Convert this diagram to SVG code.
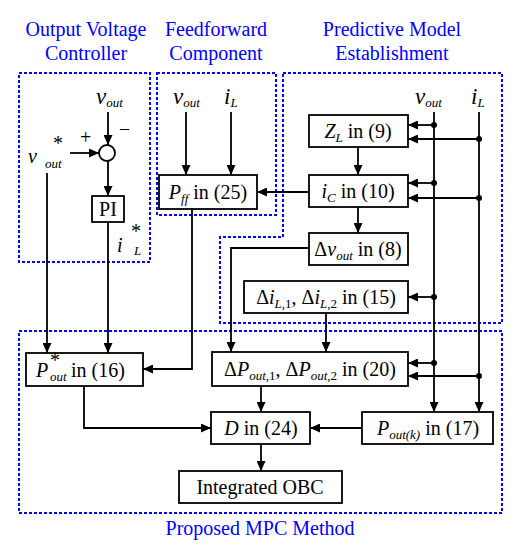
<svg xmlns="http://www.w3.org/2000/svg" width="516" height="550" viewBox="0 0 516 550">
<defs>
<style>
text{font-family:"Liberation Serif","DejaVu Serif",serif;}
.t{font-size:20px;fill:#000;}
.title{font-size:20px;fill:#0000ff;text-anchor:middle;}
.i{font-style:italic;}
.s{font-size:13px;font-style:italic;}
.box{fill:#fff;stroke:#000;stroke-width:1.8;}
.dash{fill:none;stroke:#0000ff;stroke-width:2;stroke-dasharray:3 2;}
.c{fill:none;stroke:#000;stroke-width:1.8;}
.a{marker-end:url(#ah);}
.dot{fill:#000;}
</style>
<marker id="ah" markerUnits="userSpaceOnUse" markerWidth="11" markerHeight="9" refX="10" refY="4.5" orient="auto">
<path d="M0,0 L10,4.5 L0,9 z" fill="#000"/>
</marker>
</defs>
<rect width="516" height="550" fill="#fff"/>

<g id="titles">
<text class="title" x="86" y="36">Output Voltage</text>
<text class="title" x="86" y="60">Controller</text>
<text class="title" x="216" y="36">Feedforward</text>
<text class="title" x="216" y="60">Component</text>
<text class="title" x="392" y="36">Predictive Model</text>
<text class="title" x="392" y="60">Establishment</text>
<text class="title" x="260" y="535">Proposed MPC Method</text>
</g>

<g id="regions">
<rect class="dash" x="19" y="73" width="131" height="189"/>
<rect class="dash" x="157" y="73" width="119" height="142"/>
<path class="dash" d="M283,73 H502 V323 H220 V237 H283 Z"/>
<rect class="dash" x="19" y="331" width="483" height="182"/>
</g>

<g id="connectors">
<path class="c a" d="M108,112 V145"/>
<path class="c a" d="M70,153 H99"/>
<path class="c a" d="M108,161 V196"/>
<path class="c a" d="M108,222 V353"/>
<path class="c a" d="M47,173 V353"/>
<path class="c a" d="M186,112 V175"/>
<path class="c a" d="M231,112 V175"/>
<path class="c a" d="M192,209 V369 H143"/>
<path class="c a" d="M309,192 H257"/>
<path class="c a" d="M358,147 V175"/>
<path class="c a" d="M358,207 V233"/>
<path class="c a" d="M309,248 H231 V352"/>
<path class="c a" d="M326,313 V352"/>
<path class="c a" d="M434,112 V412"/>
<path class="c a" d="M479,112 V412"/>
<path class="c a" d="M434,125 H408"/>
<path class="c a" d="M479,139 H408"/>
<path class="c a" d="M434,183 H408"/>
<path class="c a" d="M479,198 H408"/>
<path class="c a" d="M434,297 H408"/>
<path class="c a" d="M434,363 H408"/>
<path class="c a" d="M479,376 H408"/>
<path class="c a" d="M84,386 V428 H211"/>
<path class="c a" d="M261,386 V412"/>
<path class="c a" d="M362,428 H310"/>
<path class="c a" d="M261,444 V471"/>
<circle class="dot" cx="434" cy="125" r="3"/>
<circle class="dot" cx="479" cy="139" r="3"/>
<circle class="dot" cx="434" cy="183" r="3"/>
<circle class="dot" cx="479" cy="198" r="3"/>
<circle class="dot" cx="434" cy="297" r="3"/>
<circle class="dot" cx="434" cy="363" r="3"/>
<circle class="dot" cx="479" cy="376" r="3"/>
</g>

<g id="labels">
<text class="t" x="96" y="104"><tspan class="i" font-size="23">v</tspan><tspan class="s" font-size="15" dy="3">out</tspan></text>
<text class="t" x="173" y="104"><tspan class="i" font-size="23">v</tspan><tspan class="s" font-size="15" dy="3">out</tspan></text>
<text class="t" x="224" y="104"><tspan class="i" font-size="23">i</tspan><tspan class="s" font-size="15" dy="3">L</tspan></text>
<text class="t" x="415" y="104"><tspan class="i" font-size="23">v</tspan><tspan class="s" font-size="15" dy="3">out</tspan></text>
<text class="t" x="471" y="104"><tspan class="i" font-size="23">i</tspan><tspan class="s" font-size="15" dy="3">L</tspan></text>
<text class="t i" x="28" y="163" font-size="23">v</text>
<text class="t" x="53" y="150" font-size="14">*</text>
<text class="t s" x="45" y="168" font-size="15">out</text>
<text class="t i" x="117" y="252" font-size="23">i</text>
<text class="t" x="131" y="238" font-size="14">*</text>
<text class="t s" x="134" y="255">L</text>
<text class="t" x="80" y="144" font-size="22">+</text>
<text class="t" x="119" y="136" font-size="22">−</text>
</g>

<g id="sum"><circle cx="107" cy="153" r="8" fill="#fff" stroke="#000" stroke-width="1.8"/></g>

<g id="pi"><rect class="box" x="92" y="196" width="32" height="26"/><text class="t" x="108" y="216" text-anchor="middle" font-size="18">PI</text></g>

<g id="pff"><rect class="box" x="159" y="175" width="98" height="34"/>
<text class="t" x="208" y="199" text-anchor="middle"><tspan class="i">P</tspan><tspan class="s" dy="4">ff</tspan><tspan dy="-4"> in (25)</tspan></text></g>

<g id="zl"><rect class="box" x="309" y="115" width="99" height="32"/>
<text class="t" x="358" y="138" text-anchor="middle"><tspan class="i">Z</tspan><tspan class="s" dy="4">L</tspan><tspan dy="-4"> in (9)</tspan></text></g>

<g id="ic"><rect class="box" x="309" y="175" width="99" height="32"/>
<text class="t" x="358" y="198" text-anchor="middle"><tspan class="i">i</tspan><tspan class="s" dy="4">C</tspan><tspan dy="-4"> in (10)</tspan></text></g>

<g id="dv"><rect class="box" x="309" y="233" width="99" height="32"/>
<text class="t" x="358" y="256" text-anchor="middle"><tspan>Δ</tspan><tspan class="i">v</tspan><tspan class="s" dy="4">out</tspan><tspan dy="-4"> in (8)</tspan></text></g>

<g id="di"><rect class="box" x="244" y="281" width="164" height="32"/>
<text class="t" x="326" y="304" text-anchor="middle"><tspan>Δ</tspan><tspan class="i">i</tspan><tspan class="s" dy="4">L</tspan><tspan font-size="13">,1</tspan><tspan dy="-4">, Δ</tspan><tspan class="i">i</tspan><tspan class="s" dy="4">L</tspan><tspan font-size="13">,2</tspan><tspan dy="-4"> in (15)</tspan></text></g>

<g id="pstar"><rect class="box" x="26" y="353" width="117" height="33"/>
<text class="t i" x="36" y="377">P</text>
<text class="t" x="50" y="367" font-size="12">*</text>
<text class="t s" x="50" y="381">out</text>
<text class="t" x="71" y="377"> in (16)</text></g>

<g id="dp"><rect class="box" x="212" y="352" width="196" height="34"/>
<text class="t" x="310" y="376" text-anchor="middle"><tspan>Δ</tspan><tspan class="i">P</tspan><tspan class="s" dy="4">out</tspan><tspan font-size="13">,1</tspan><tspan dy="-4">, Δ</tspan><tspan class="i">P</tspan><tspan class="s" dy="4">out</tspan><tspan font-size="13">,2</tspan><tspan dy="-4"> in (20)</tspan></text></g>

<g id="d"><rect class="box" x="211" y="412" width="99" height="32"/>
<text class="t" x="261" y="435" text-anchor="middle"><tspan class="i">D</tspan><tspan> in (24)</tspan></text></g>

<g id="pk"><rect class="box" x="362" y="412" width="131" height="32"/>
<text class="t" x="428" y="435" text-anchor="middle"><tspan class="i">P</tspan><tspan class="s" dy="4">out(k)</tspan><tspan dy="-4"> in (17)</tspan></text></g>

<g id="obc"><rect class="box" x="179" y="471" width="163" height="32"/>
<text class="t" x="260" y="494" text-anchor="middle">Integrated OBC</text></g>
</svg>
